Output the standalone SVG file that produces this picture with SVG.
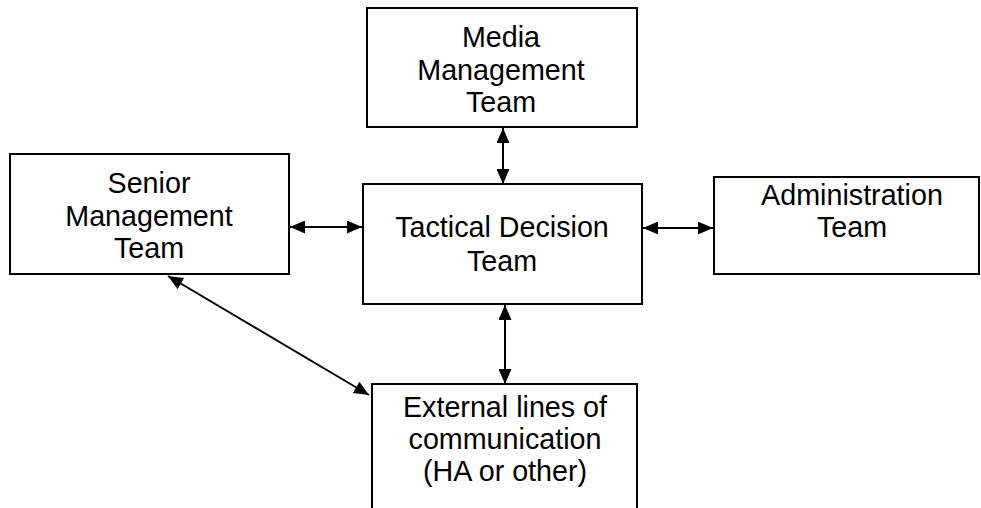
<svg xmlns="http://www.w3.org/2000/svg" width="981" height="508" viewBox="0 0 981 508">
  <style>
    .box { fill: #ffffff; stroke: #000000; stroke-width: 2; }
    .label { font-family: "Liberation Sans", Arial, sans-serif; font-size: 28.7px; fill: #000000; text-anchor: middle; }
    .link { stroke: #000000; stroke-width: 2; fill: none; marker-start: url(#head); marker-end: url(#head); }
  </style>
  <defs>
    <marker id="head" viewBox="0 0 15 13" refX="15" refY="6.5" markerWidth="15" markerHeight="13" markerUnits="userSpaceOnUse" orient="auto-start-reverse">
      <path d="M0,0 L15,6.5 L0,13 z" fill="#000000"/>
    </marker>
  </defs>
  <rect width="981" height="508" fill="#ffffff"/>

  <g id="media">
    <rect class="box" x="367" y="8" width="270" height="119"/>
    <text class="label" x="501" y="47">Media</text>
    <text class="label" x="501" y="80">Management</text>
    <text class="label" x="501" y="112">Team</text>
  </g>

  <g id="senior">
    <rect class="box" x="10" y="154" width="279" height="120"/>
    <text class="label" x="149" y="193">Senior</text>
    <text class="label" x="149" y="226">Management</text>
    <text class="label" x="149" y="258">Team</text>
  </g>

  <g id="tactical">
    <rect class="box" x="363" y="184" width="279" height="120"/>
    <text class="label" x="502" y="237">Tactical Decision</text>
    <text class="label" x="502" y="271">Team</text>
  </g>

  <g id="admin">
    <rect class="box" x="714" y="177" width="265" height="97"/>
    <text class="label" x="852" y="205">Administration</text>
    <text class="label" x="852" y="237">Team</text>
  </g>

  <g id="external">
    <rect class="box" x="372" y="384" width="265" height="140"/>
    <text class="label" x="505" y="417">External lines of</text>
    <text class="label" x="505" y="449">communication</text>
    <text class="label" x="505" y="481">(HA or other)</text>
  </g>

  <g id="connectors">
    <line class="link" x1="503" y1="128" x2="503" y2="184"/>
    <line class="link" x1="290" y1="227" x2="362" y2="227"/>
    <line class="link" x1="643" y1="228" x2="713" y2="228"/>
    <line class="link" x1="505" y1="305" x2="505" y2="384"/>
    <line class="link" x1="168" y1="276" x2="369" y2="395"/>
  </g>
</svg>
